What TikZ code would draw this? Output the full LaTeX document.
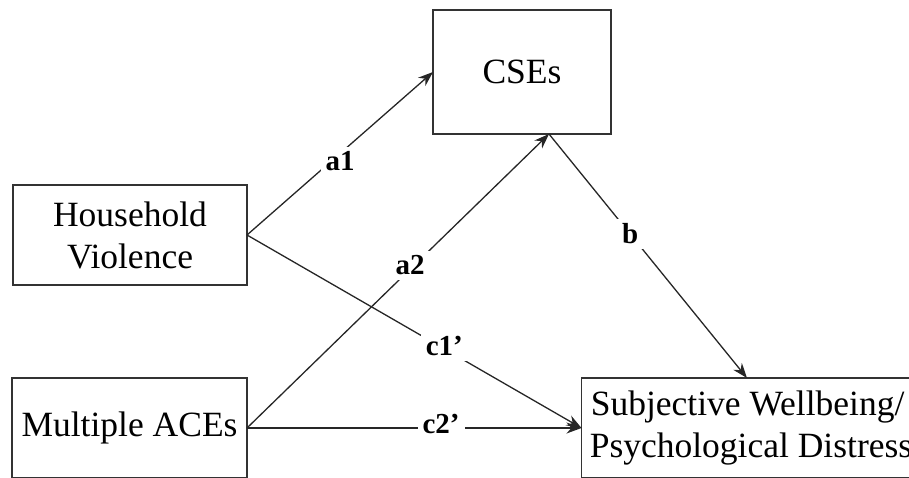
\documentclass[tikz,border=0pt]{standalone}
\usepackage{fontspec}
\setmainfont{Liberation Serif}
\usetikzlibrary{arrows.meta}
\begin{document}
\begin{tikzpicture}[x=1pt,y=-1pt,
  box/.style={draw=black!80, line width=1.5pt, inner sep=0pt, outer sep=0pt,
    font=\fontsize{35.5}{42}\selectfont, align=center},
  conn/.style={draw=black!85, line width=1.3pt, -{Stealth[length=15pt,width=11pt]}},
  lab/.style={fill=white, inner sep=5pt, font=\bfseries\fontsize{29}{31}\selectfont}]
\useasboundingbox (0,0) rectangle (909,478);
\clip (0,0) rectangle (909,478);
\node[box, minimum width=178pt, minimum height=124pt] (cse) at (522,72) {CSEs};
\node[box, minimum width=234pt, minimum height=100pt] (hv) at (130,235) {Household\\Violence};
\node[box, minimum width=235pt, minimum height=100pt] (ma) at (129.5,428) {Multiple ACEs};
\node[box, minimum width=339pt, minimum height=100pt, align=left] (sw) at (751,428)
  {\hspace*{1pt}Subjective Wellbeing/\\Psychological Distress};
\coordinate (cseb) at (549,134);
\coordinate (swt) at (747,378);
\draw[conn] (hv.east) -- node[lab, pos=0.5, yshift=-8pt] {a1} (cse.west);
\draw[conn] (ma.east) -- node[lab, pos=0.54, yshift=4pt] {a2} (cseb);
\draw[conn] (cseb) -- node[lab, pos=0.41] {b} (swt);
\draw[conn] (hv.east) -- node[lab, pos=0.59, yshift=3pt] {c1’} (sw.west);
\draw[conn] (ma.east) -- node[lab, pos=0.58, yshift=4pt] {c2’} (sw.west);
\end{tikzpicture}
\end{document}
